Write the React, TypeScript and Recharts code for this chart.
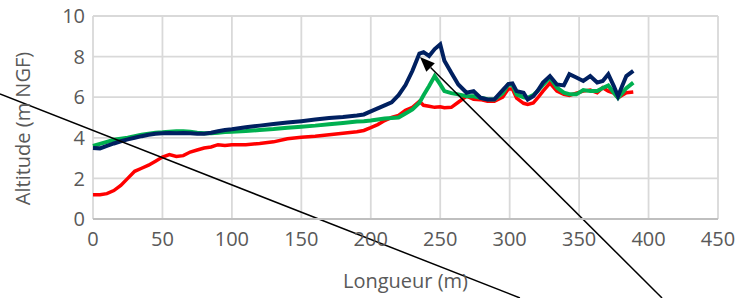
import React from 'react';
import { LineChart, Line, XAxis, YAxis, CartesianGrid, ReferenceLine } from 'recharts';

// longueur (m) des points relevés
const distances = [
  0, 5, 10, 15, 20, 25, 30, 35, 40, 45, 50, 55, 60, 65, 70, 75, 80, 85, 90, 95,
  100, 110, 120, 130, 140, 150, 160, 170, 180, 190, 195, 200, 205, 210, 215, 220,
  225, 230, 235, 238, 242, 246, 250, 253, 258, 263, 269, 274, 279, 284, 289, 295,
  299, 302, 305, 310, 313, 317, 320, 324, 329, 334, 339, 343, 348, 353, 358, 363,
  367, 371, 375, 378, 381, 384, 389,
];

const altitudeRed = [
  1.19, 1.2, 1.25, 1.4, 1.65, 2.0, 2.35, 2.5, 2.65, 2.85, 3.05, 3.17, 3.08, 3.12, 3.3, 3.4, 3.5, 3.55, 3.66, 3.62,
  3.66, 3.66, 3.72, 3.8, 3.95, 4.03, 4.08, 4.15, 4.22, 4.3, 4.36, 4.5, 4.65, 4.85, 5.0, 5.1,
  5.35, 5.5, 5.8, 5.6, 5.55, 5.5, 5.53, 5.48, 5.5, 5.75, 6.05, 5.9, 5.88, 5.8, 5.8, 6.0,
  6.4, 6.4, 5.95, 5.7, 5.64, 5.72, 5.95, 6.3, 6.7, 6.3, 6.14, 6.09, 6.2, 6.3, 6.35, 6.22,
  6.47, 6.3, 6.2, 5.97, 6.1, 6.22, 6.26,
];

const altitudeGreen = [
  3.6, 3.7, 3.8, 3.9, 3.95, 4.0, 4.08, 4.15, 4.2, 4.25, 4.27, 4.3, 4.32, 4.32, 4.3, 4.25, 4.22, 4.22, 4.25, 4.28,
  4.3, 4.33, 4.38, 4.43, 4.5, 4.55, 4.6, 4.67, 4.73, 4.8, 4.82, 4.85, 4.9, 4.95, 4.97, 5.0,
  5.2, 5.4, 5.73, 6.1, 6.55, 7.04, 6.63, 6.3, 6.2, 6.14, 6.05, 6.05, 5.97, 5.9, 5.89, 6.2,
  6.63, 6.6, 6.14, 6.0, 5.97, 6.1, 6.3, 6.6, 6.97, 6.47, 6.22, 6.15, 6.14, 6.35, 6.3, 6.3,
  6.45, 6.58, 6.22, 5.97, 6.2, 6.45, 6.72,
];

const altitudeBlue = [
  3.5, 3.48, 3.6, 3.72, 3.83, 3.92, 4.0, 4.08, 4.15, 4.2, 4.22, 4.24, 4.22, 4.24, 4.22, 4.2, 4.2, 4.25, 4.32, 4.38,
  4.42, 4.52, 4.6, 4.68, 4.75, 4.82, 4.9, 4.97, 5.02, 5.1, 5.15, 5.3, 5.45, 5.6, 5.75, 6.1,
  6.6, 7.3, 8.15, 8.22, 8.03, 8.37, 8.6, 7.8, 7.2, 6.63, 6.22, 6.3, 5.97, 5.89, 5.9, 6.35,
  6.65, 6.68, 6.3, 6.22, 5.89, 6.05, 6.3, 6.72, 7.04, 6.63, 6.58, 7.13, 6.97, 6.8, 7.04, 6.72,
  6.8, 7.13, 6.55, 6.05, 6.55, 7.04, 7.3,
];

const xTicks = [0, 50, 100, 150, 200, 250, 300, 350, 400, 450];
const yTicks = [0, 2, 4, 6, 8, 10];

// traits d'annotation (coordonnées en unités du graphique)
const annotationLine = [{ x: -67, y: 6.16 }, { x: 307.4, y: -3.89 }];
const annotationArrow = [{ x: 235.4, y: 7.98 }, { x: 409.7, y: -3.89 }];

const data = distances.map((d, i) => ({
  x: d,
  red: altitudeRed[i],
  green: altitudeGreen[i],
  blue: altitudeBlue[i],
}));

const font = '"Open Sans", sans-serif';
const grey = '#595959';

const ArrowShape = (props: any) => {
  const { x1, y1, x2, y2 } = props;
  const ang = Math.atan2(y1 - y2, x1 - x2);
  const len = 15;
  const half = 6;
  const bx = x1 - len * Math.cos(ang);
  const by = y1 - len * Math.sin(ang);
  const px = -Math.sin(ang) * half;
  const py = Math.cos(ang) * half;
  return (
    <g>
      <line x1={bx} y1={by} x2={x2} y2={y2} stroke='#000' strokeWidth={1.5} />
      <polygon points={`${x1},${y1} ${bx + px},${by + py} ${bx - px},${by - py}`} fill='#000' />
    </g>
  );
};

const App = () => {
  return (
    <div style={{ position: 'absolute', left: 0, top: 0, background: '#fff' }}>
      <LineChart
        width={739}
        height={298}
        data={data}
        margin={{ top: 16, right: 21, bottom: 0, left: 0 }}
        style={{ fontFamily: font }}
      >
        <CartesianGrid stroke='#d9d9d9' strokeWidth={1.8} />
        <XAxis
          dataKey='x'
          type='number'
          domain={[0, 450]}
          ticks={xTicks}
          height={79}
          tickLine={false}
          tickMargin={7}
          axisLine={{ stroke: '#bfbfbf', strokeWidth: 1.8 }}
          tick={{ fill: grey, fontSize: 20, fontFamily: font }}
          label={{
            content: ({ viewBox }: any) => (
              <text
                x={viewBox.x + viewBox.width / 2}
                y={viewBox.y + 64}
                textAnchor='middle'
                dominantBaseline='middle'
                fill={grey}
                fontSize={20}
                fontFamily={font}
              >
                Longueur (m)
              </text>
            ),
          }}
        />
        <YAxis
          type='number'
          domain={[0, 10]}
          ticks={yTicks}
          width={93}
          tickLine={false}
          axisLine={false}
          tick={{ fill: grey, fontSize: 20, fontFamily: font }}
          label={{
            content: ({ viewBox }: any) => {
              const cx = 25;
              const cy = viewBox.y + viewBox.height / 2 + 11;
              return (
                <text
                  x={cx}
                  y={cy}
                  transform={`rotate(-90 ${cx} ${cy})`}
                  textAnchor='middle'
                  dominantBaseline='middle'
                  fill={grey}
                  fontSize={20}
                  fontFamily={font}
                >
                  Altitude (m NGF)
                </text>
              );
            },
          }}
        />
        <Line dataKey='red' stroke='#ff0000' strokeWidth={3.5} dot={false} isAnimationActive={false} />
        <Line dataKey='green' stroke='#00b050' strokeWidth={4} dot={false} isAnimationActive={false} />
        <Line dataKey='blue' stroke='#002060' strokeWidth={4} dot={false} isAnimationActive={false} />
        <ReferenceLine segment={annotationLine} ifOverflow='visible' stroke='#000' strokeWidth={1.5} />
        <ReferenceLine segment={annotationArrow} ifOverflow='visible' shape={ArrowShape} />
      </LineChart>
    </div>
  );
};

export default App;
